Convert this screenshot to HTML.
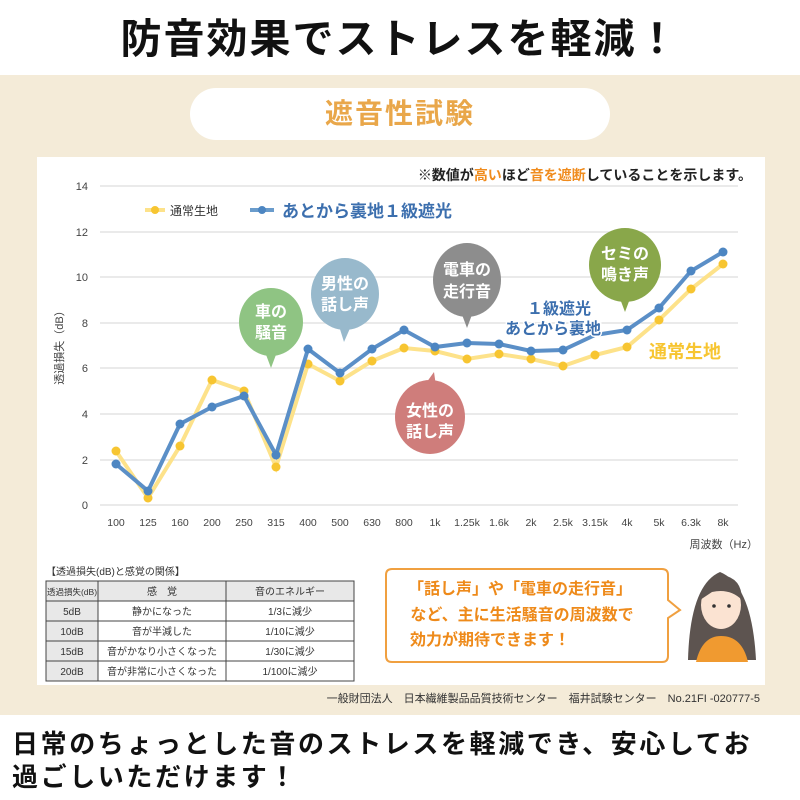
<!DOCTYPE html>
<html><head><meta charset="utf-8"><style>
body{margin:0;width:800px;height:800px;overflow:hidden;background:#fff;font-family:"Liberation Sans","Noto Sans CJK JP",sans-serif;position:relative}
.a{position:absolute}
</style></head><body>
<div class="a" style="left:0;top:0;width:800px;height:75px;text-align:center;font-size:41px;font-weight:bold;line-height:78px;letter-spacing:2px;color:#111">防音効果でストレスを軽減！</div>
<div class="a" style="left:0;top:75px;width:800px;height:640px;background:#f4ebd8"></div>
<div class="a" style="left:190px;top:88px;width:420px;height:52px;border-radius:26px;background:#fff;text-align:center;line-height:52px;font-size:28px;font-weight:bold;color:#e9a74a;letter-spacing:2px">遮音性試験</div>
<div class="a" style="left:37px;top:157px;width:728px;height:528px;background:#fff"></div>
<svg class="a" style="left:0;top:0" width="800" height="800" font-family="Liberation Sans, Noto Sans CJK JP, sans-serif">
<text x="752" y="180" font-size="14" font-weight="bold" text-anchor="end" fill="#222">※数値が<tspan fill="#f08c1e">高い</tspan>ほど<tspan fill="#f08c1e">音を遮断</tspan>していることを示します。</text>
<g stroke="#e3e3e3" stroke-width="1.5">
<line x1="100" x2="738" y1="186" y2="186"/><line x1="100" x2="738" y1="232" y2="232"/><line x1="100" x2="738" y1="277" y2="277"/><line x1="100" x2="738" y1="323" y2="323"/><line x1="100" x2="738" y1="368" y2="368"/><line x1="100" x2="738" y1="414" y2="414"/><line x1="100" x2="738" y1="460" y2="460"/><line x1="100" x2="738" y1="505" y2="505"/>
</g>
<g font-size="11" fill="#444" text-anchor="end">
<text x="88" y="190">14</text><text x="88" y="236">12</text><text x="88" y="281">10</text><text x="88" y="327">8</text><text x="88" y="372">6</text><text x="88" y="418">4</text><text x="88" y="464">2</text><text x="88" y="509">0</text>
</g>
<text transform="translate(63,345) rotate(-90)" font-size="11" fill="#444" text-anchor="middle">透過損失（dB）</text>
<g font-size="10.5" fill="#444" text-anchor="middle">
<text x="116" y="526">100</text><text x="148" y="526">125</text><text x="180" y="526">160</text><text x="212" y="526">200</text><text x="244" y="526">250</text><text x="276" y="526">315</text><text x="308" y="526">400</text><text x="340" y="526">500</text><text x="372" y="526">630</text><text x="404" y="526">800</text><text x="435" y="526">1k</text><text x="467" y="526">1.25k</text><text x="499" y="526">1.6k</text><text x="531" y="526">2k</text><text x="563" y="526">2.5k</text><text x="595" y="526">3.15k</text><text x="627" y="526">4k</text><text x="659" y="526">5k</text><text x="691" y="526">6.3k</text><text x="723" y="526">8k</text>
</g>
<text x="758" y="548" font-size="11" fill="#444" text-anchor="end">周波数（Hz）</text>
<line x1="145" x2="165" y1="210" y2="210" stroke="#fde28a" stroke-width="4"/><circle cx="155" cy="210" r="4" fill="#f7c531"/>
<text x="170" y="215" font-size="12" fill="#333">通常生地</text>
<line x1="250" x2="274" y1="210" y2="210" stroke="#6a9ccc" stroke-width="4"/><circle cx="262" cy="210" r="4" fill="#4d86c2"/>
<text x="282" y="217" font-size="17" font-weight="bold" fill="#3c6fae">あとから裏地１級遮光</text>
<polyline fill="none" stroke="#fde28a" stroke-width="4" points="116,451 148,498 180,446 212,380 244,391 276,467 308,364 340,381 372,361 404,348 435,351 467,359 499,354 531,359 563,366 595,355 627,347 659,320 691,289 723,264"/>
<g fill="#f7c531"><circle cx="116" cy="451" r="4.5"/><circle cx="148" cy="498" r="4.5"/><circle cx="180" cy="446" r="4.5"/><circle cx="212" cy="380" r="4.5"/><circle cx="244" cy="391" r="4.5"/><circle cx="276" cy="467" r="4.5"/><circle cx="308" cy="364" r="4.5"/><circle cx="340" cy="381" r="4.5"/><circle cx="372" cy="361" r="4.5"/><circle cx="404" cy="348" r="4.5"/><circle cx="435" cy="351" r="4.5"/><circle cx="467" cy="359" r="4.5"/><circle cx="499" cy="354" r="4.5"/><circle cx="531" cy="359" r="4.5"/><circle cx="563" cy="366" r="4.5"/><circle cx="595" cy="355" r="4.5"/><circle cx="627" cy="347" r="4.5"/><circle cx="659" cy="320" r="4.5"/><circle cx="691" cy="289" r="4.5"/><circle cx="723" cy="264" r="4.5"/></g>
<polyline fill="none" stroke="#5b8fc7" stroke-width="4" points="116,464 148,491 180,424 212,407 244,396 276,455 308,349 340,373 372,349 404,330 435,347 467,343 499,344 531,351 563,350 595,335 627,330 659,308 691,271 723,252"/>
<g fill="#4d86c2"><circle cx="116" cy="464" r="4.5"/><circle cx="148" cy="491" r="4.5"/><circle cx="180" cy="424" r="4.5"/><circle cx="212" cy="407" r="4.5"/><circle cx="244" cy="396" r="4.5"/><circle cx="276" cy="455" r="4.5"/><circle cx="308" cy="349" r="4.5"/><circle cx="340" cy="373" r="4.5"/><circle cx="372" cy="349" r="4.5"/><circle cx="404" cy="330" r="4.5"/><circle cx="435" cy="347" r="4.5"/><circle cx="467" cy="343" r="4.5"/><circle cx="499" cy="344" r="4.5"/><circle cx="531" cy="351" r="4.5"/><circle cx="563" cy="350" r="4.5"/><circle cx="627" cy="330" r="4.5"/><circle cx="659" cy="308" r="4.5"/><circle cx="691" cy="271" r="4.5"/><circle cx="723" cy="252" r="4.5"/></g>
<g font-size="16" font-weight="bold" fill="#fff" text-anchor="middle">
<ellipse cx="271" cy="322" rx="32" ry="34" fill="#8fc483"/><polygon points="265,352 277,352 271,368" fill="#8fc483"/><text x="271" y="317">車の</text><text x="271" y="338">騒音</text>
<ellipse cx="345" cy="294" rx="34" ry="36" fill="#98b9cc"/><polygon points="339,326 351,326 344,342" fill="#98b9cc"/><text x="345" y="289">男性の</text><text x="345" y="310">話し声</text>
<ellipse cx="467" cy="280" rx="34" ry="37" fill="#8d8d8d"/><polygon points="461,312 473,312 467,328" fill="#8d8d8d"/><text x="467" y="275">電車の</text><text x="467" y="297">走行音</text>
<ellipse cx="430" cy="417" rx="35" ry="37" fill="#cf7d7b"/><polygon points="424,386 436,386 434,372" fill="#cf7d7b"/><text x="430" y="416">女性の</text><text x="430" y="437">話し声</text>
<ellipse cx="625" cy="265" rx="36" ry="37" fill="#89a74a"/><polygon points="619,296 631,296 625,312" fill="#89a74a"/><text x="625" y="259">セミの</text><text x="625" y="280">鳴き声</text>
</g>
<text x="559" y="314" font-size="16" font-weight="bold" fill="#3c6fae" text-anchor="middle" stroke="#fff" stroke-width="3" paint-order="stroke">１級遮光</text>
<text x="553" y="334" font-size="16" font-weight="bold" fill="#3c6fae" text-anchor="middle" stroke="#fff" stroke-width="3" paint-order="stroke">あとから裏地</text>
<text x="685" y="358" font-size="18" font-weight="bold" fill="#f7c531" text-anchor="middle">通常生地</text>
<text x="46" y="575" font-size="10" fill="#333">【透過損失(dB)と感覚の関係】</text>
<g font-size="10" fill="#333" text-anchor="middle">
<rect x="46" y="581" width="52" height="20" fill="#e8e8e8"/><rect x="98" y="581" width="128" height="20" fill="#e8e8e8"/><rect x="226" y="581" width="128" height="20" fill="#e8e8e8"/>
<rect x="46" y="601" width="52" height="80" fill="#e8e8e8"/>
<g stroke="#444" stroke-width="1" fill="none"><rect x="46" y="581" width="308" height="100"/><line x1="98" x2="98" y1="581" y2="681"/><line x1="226" x2="226" y1="581" y2="681"/><line x1="46" x2="354" y1="601" y2="601"/><line x1="46" x2="354" y1="621" y2="621"/><line x1="46" x2="354" y1="641" y2="641"/><line x1="46" x2="354" y1="661" y2="661"/></g>
<text x="72" y="595" font-size="8.5">透過損失(dB)</text><text x="162" y="595">感　覚</text><text x="290" y="595">音のエネルギー</text>
<text x="72" y="615">5dB</text><text x="162" y="615">静かになった</text><text x="290" y="615">1/3に減少</text>
<text x="72" y="635">10dB</text><text x="162" y="635">音が半減した</text><text x="290" y="635">1/10に減少</text>
<text x="72" y="655">15dB</text><text x="162" y="655">音がかなり小さくなった</text><text x="290" y="655">1/30に減少</text>
<text x="72" y="675">20dB</text><text x="162" y="675">音が非常に小さくなった</text><text x="290" y="675">1/100に減少</text>
</g>
<path d="M392,569 H662 Q668,569 668,575 V600 L680,610 L668,618 V656 Q668,662 662,662 H392 Q386,662 386,656 V575 Q386,569 392,569 Z" fill="#fff" stroke="#f0a040" stroke-width="2"/>
<g font-size="16" font-weight="bold" fill="#ee8a1a" text-anchor="middle"><text x="520" y="594">「話し声」や「電車の走行音」</text><text x="522" y="620">など、主に生活騒音の周波数で</text><text x="490" y="645">効力が期待できます！</text></g>
<path d="M688,660 Q690,585 720,572 Q752,585 756,660 Z" fill="#5d5450"/>
<ellipse cx="721" cy="605" rx="20" ry="24" fill="#fbe3d2"/>
<path d="M700,600 Q705,575 722,575 Q742,578 742,600 Q730,588 712,592 Z" fill="#5d5450"/>
<circle cx="714" cy="606" r="1.8" fill="#333"/><circle cx="729" cy="606" r="1.8" fill="#333"/>
<path d="M696,662 Q702,636 721,636 Q742,636 748,662 Z" fill="#f09a30"/>
<text x="760" y="702" font-size="11" fill="#333" text-anchor="end">一般財団法人　日本繊維製品品質技術センター　福井試験センター　No.21FI -020777-5</text>
<text x="12" y="753" font-size="26" font-weight="bold" fill="#111" letter-spacing="2.6">日常のちょっとした音のストレスを軽減でき、安心してお</text>
<text x="12" y="786" font-size="26" font-weight="bold" fill="#111" letter-spacing="2.6">過ごしいただけます！</text>
</svg>
</body></html>
